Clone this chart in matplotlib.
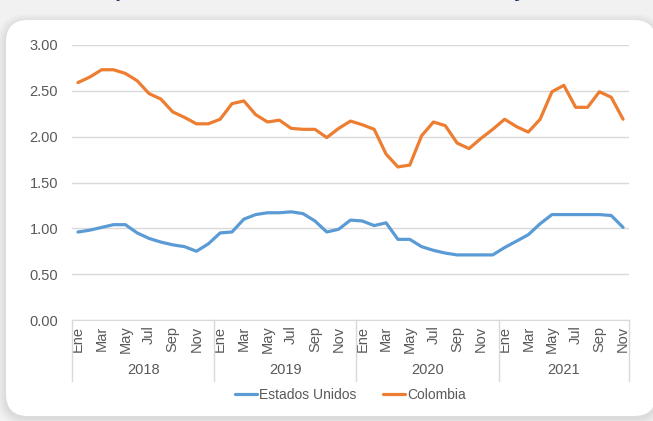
import matplotlib.pyplot as plt
from matplotlib.patches import FancyBboxPatch
from matplotlib.transforms import blended_transform_factory

# Serie mensual, enero 2018 - noviembre 2021
years = ["2018", "2019", "2020", "2021"]
months = ["Ene", "Feb", "Mar", "Abr", "May", "Jun",
          "Jul", "Ago", "Sep", "Oct", "Nov", "Dic"]
months_per_year = [12, 12, 12, 11]

estados_unidos = [
    0.96, 0.98, 1.01, 1.04, 1.04, 0.95, 0.89, 0.85, 0.82, 0.80, 0.75, 0.83,
    0.95, 0.96, 1.10, 1.15, 1.17, 1.17, 1.18, 1.16, 1.08, 0.96, 0.99, 1.09,
    1.08, 1.03, 1.06, 0.88, 0.88, 0.80, 0.76, 0.73, 0.71, 0.71, 0.71, 0.71,
    0.79, 0.86, 0.93, 1.05, 1.15, 1.15, 1.15, 1.15, 1.15, 1.14, 1.01,
]
colombia = [
    2.59, 2.65, 2.73, 2.73, 2.69, 2.61, 2.47, 2.41, 2.27, 2.21, 2.14, 2.14,
    2.19, 2.36, 2.39, 2.24, 2.16, 2.18, 2.09, 2.08, 2.08, 1.99, 2.09, 2.17,
    2.13, 2.08, 1.81, 1.67, 1.69, 2.01, 2.16, 2.12, 1.93, 1.87, 1.98, 2.08,
    2.19, 2.11, 2.05, 2.19, 2.49, 2.56, 2.32, 2.32, 2.49, 2.43, 2.19,
]

title = "Tasa de política monetaria real: Estados Unidos y Colombia"

W, H = 653, 421
text_color = "#595959"
grid_color = "#d9d9d9"
plt.rcParams["font.family"] = ["Liberation Sans", "DejaVu Sans"]

fig = plt.figure(figsize=(W / 100, H / 100), dpi=100)
fig.patch.set_facecolor("#f1f1f1")

# fondo: tarjeta blanca redondeada con sombra
bg = fig.add_axes([0, 0, 1, 1], zorder=-1)
bg.set_xlim(0, W)
bg.set_ylim(H, 0)
bg.axis("off")
card_x, card_y, card_w, card_h = 6, 20, 650, 396
for i, a in enumerate([0.05, 0.05, 0.06, 0.07]):
    grow = 8 - 2 * i
    bg.add_patch(FancyBboxPatch((card_x - grow, card_y - grow + 2),
                                card_w + 2 * grow, card_h + 2 * grow,
                                boxstyle="round,pad=0,rounding_size=%d" % (22 + grow),
                                facecolor="#9a9a9a", edgecolor="none", alpha=a))
bg.add_patch(FancyBboxPatch((card_x, card_y), card_w, card_h,
                            boxstyle="round,pad=0,rounding_size=22",
                            facecolor="white", edgecolor="none"))
bg.text(330, -3, title, ha="center", va="baseline", fontsize=15,
        fontweight="bold", color="#1f3864")

ax = fig.add_axes([72 / W, 1 - 320 / H, (629 - 72) / W, (320 - 45) / H])
ax.set_facecolor("none")

x = list(range(len(colombia)))
ax.plot(x, estados_unidos, color="#5b9bd5", lw=2.3, label="Estados Unidos",
        solid_joinstyle="round", solid_capstyle="round")
ax.plot(x, colombia, color="#ed7d31", lw=2.3, label="Colombia",
        solid_joinstyle="round", solid_capstyle="round")

ax.set_xlim(-0.5, len(x) - 0.5)
ax.set_ylim(0, 3)
ax.set_yticks([0, 0.5, 1, 1.5, 2, 2.5, 3])
ax.set_yticklabels(["%.2f" % v for v in ax.get_yticks()], fontsize=10.5, color=text_color)
ax.yaxis.grid(True, color=grid_color, lw=1)
ax.set_axisbelow(True)
for s in ["top", "right", "left"]:
    ax.spines[s].set_visible(False)
ax.spines["bottom"].set_color(grid_color)
ax.tick_params(axis="y", length=0, pad=10)

# meses cada dos, año debajo
tick_pos, tick_lab = [], []
i = 0
for n in months_per_year:
    for m in range(0, n, 2):
        tick_pos.append(i + m)
        tick_lab.append(months[m])
    i += n
ax.set_xticks(tick_pos)
ax.set_xticklabels(tick_lab, rotation=90, fontsize=10.5, color=text_color)
ax.tick_params(axis="x", length=0, pad=4)

trans = blended_transform_factory(ax.transData, ax.transAxes)
sep_bottom = -(381 - 320) / (320 - 45)
start = 0
bounds = [-0.5]
for yr, n in zip(years, months_per_year):
    ax.text(start + (n - 1) / 2, -(370 - 320) / (320 - 45), yr, transform=trans,
            ha="center", va="center", fontsize=10.5, color=text_color)
    start += n
    bounds.append(start - 0.5)
for b in bounds:
    ax.plot([b, b], [0, sep_bottom], transform=trans, color=grid_color, lw=1,
            clip_on=False)

ax.legend(loc="center", bbox_to_anchor=(0.5, -(395 - 320) / (320 - 45)), ncol=2,
          frameon=False, fontsize=10, handlelength=1.6, handletextpad=0.15,
          columnspacing=1.9, labelcolor=text_color)

fig.savefig("out.png", dpi=100)
